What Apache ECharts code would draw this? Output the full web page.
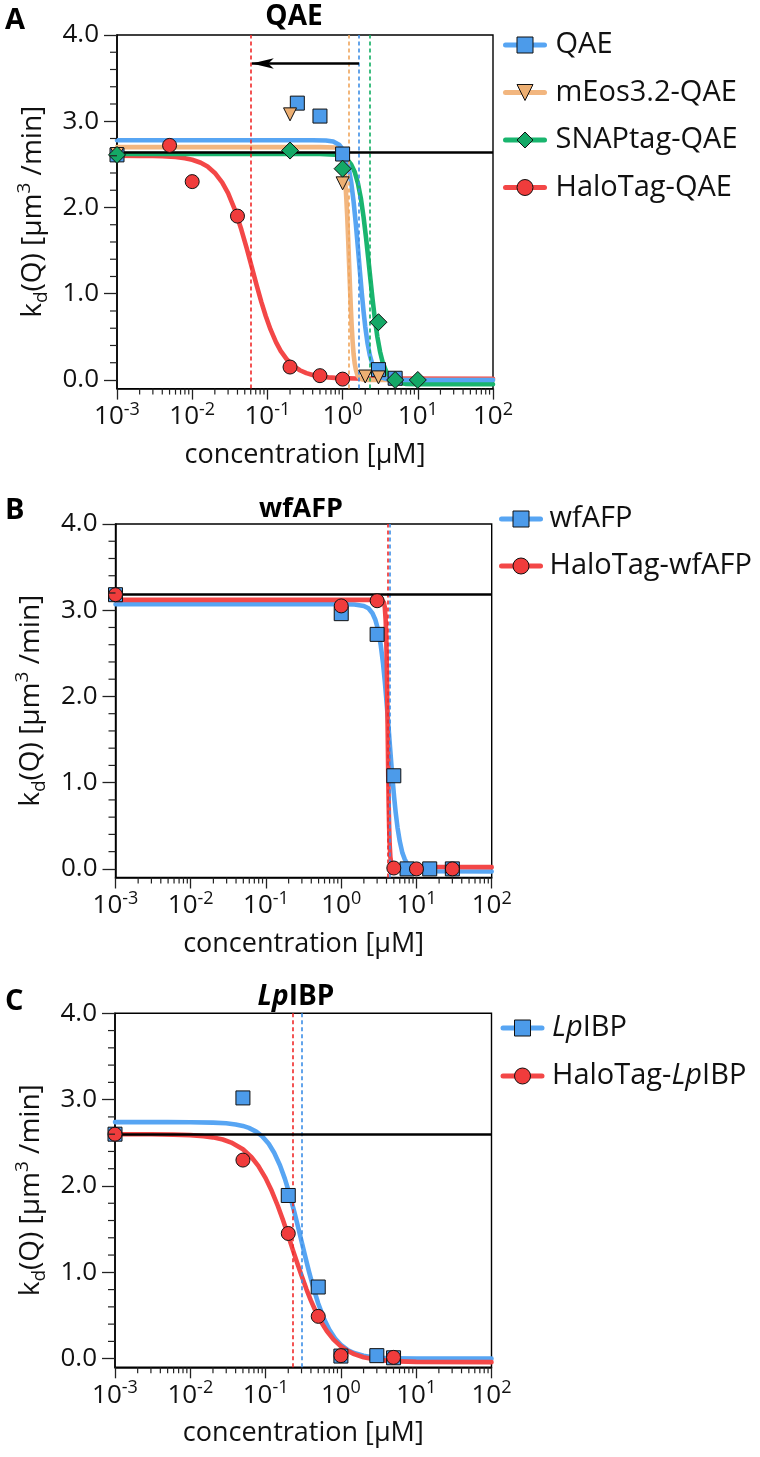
<!DOCTYPE html>
<html><head><meta charset="utf-8">
<script src="https://cdn.jsdelivr.net/npm/echarts@6/dist/echarts.min.js"></script>
<style>html,body{margin:0;padding:0;background:#fff}#c{width:760px;height:1457px}</style>
</head><body><div id="c"></div>
<script>
// ---------- axis / tick definitions ----------
const yMin = -0.1, yMax = 4.0;
const yTickValues = [0, 1, 2, 3, 4];
const yMinorTickValues = [0.2,0.4,0.6,0.8,1.2,1.4,1.6,1.8,2.2,2.4,2.6,2.8,3.2,3.4,3.6,3.8];
const xMin = 0.001, xMax = 100;
const xTickExponents = [-3, -2, -1, 0, 1, 2];
const xMinorMultipliers = [2, 3, 4, 5, 6, 7, 8, 9];
const xAxisTitle = 'concentration [µM]';

// ---------- Panel A : QAE (measured points) ----------
const qaeConc = [0.001, 0.25, 0.5, 1, 3, 5];
const qaeKd   = [2.61, 3.21, 3.06, 2.62, 0.12, 0.02];
const meosConc = [0.001, 0.2, 1, 2, 3];
const meosKd   = [2.62, 3.08, 2.28, 0.04, 0.03];
const snapConc = [0.001, 0.2, 1, 3, 5, 10];
const snapKd   = [2.61, 2.66, 2.45, 0.67, 0.0, 0.0];
const haloQaeConc = [0.001, 0.005, 0.01, 0.04, 0.2, 0.5, 1];
const haloQaeKd   = [2.61, 2.72, 2.30, 1.90, 0.15, 0.05, 0.01];

// ---------- Panel A : fitted curves ----------
const qaeFitConc = [0.001, 0.4, 0.6, 0.75, 0.9, 1.0, 1.1, 1.2, 1.3, 1.4, 1.5, 1.6, 1.7, 1.8, 1.9, 2.0, 2.15, 2.3, 2.5, 2.7, 3.0, 3.4, 4, 5, 7, 100];
const qaeFitKd   = [2.78, 2.78, 2.776, 2.764, 2.727, 2.677, 2.594, 2.469, 2.294, 2.069, 1.807, 1.529, 1.256, 1.007, 0.794, 0.619, 0.422, 0.288, 0.175, 0.109, 0.056, 0.025, 0.009, 0.002, 0.0, 0.0];
const meosFitConc = [0.001, 0.5, 0.8, 0.9, 0.95, 1.0, 1.05, 1.09, 1.12, 1.15, 1.18, 1.2, 1.22, 1.24, 1.26, 1.29, 1.32, 1.36, 1.4, 1.45, 1.5, 1.57, 1.65, 1.8, 2, 100];
const meosFitKd   = [2.70, 2.70, 2.695, 2.672, 2.64, 2.57, 2.44, 2.279, 2.11, 1.912, 1.68, 1.517, 1.35, 1.186, 1.03, 0.816, 0.63, 0.443, 0.30, 0.189, 0.12, 0.06, 0.03, 0.008, 0.0, 0.0];
const snapFitConc = [0.001, 0.5, 0.8, 1.0, 1.15, 1.3, 1.45, 1.6, 1.75, 1.9, 2.05, 2.2, 2.35, 2.5, 2.7, 2.9, 3.15, 3.4, 3.8, 4.2, 4.8, 5.5, 7, 10, 100];
const snapFitKd   = [2.62, 2.62, 2.611, 2.59, 2.558, 2.50, 2.411, 2.28, 2.105, 1.89, 1.65, 1.40, 1.158, 0.94, 0.692, 0.50, 0.328, 0.21, 0.098, 0.04, -0.007, -0.03, -0.045, -0.05, -0.05];
const haloQaeFitConc = [0.001, 0.002, 0.003, 0.004, 0.006, 0.008, 0.01, 0.013, 0.016, 0.02, 0.025, 0.03, 0.037, 0.045, 0.053, 0.062, 0.072, 0.083, 0.095, 0.11, 0.13, 0.15, 0.18, 0.22, 0.27, 0.33, 0.4, 0.5, 0.65, 0.8, 1, 1.5, 2, 100];
const haloQaeFitKd   = [2.60, 2.599, 2.597, 2.594, 2.585, 2.571, 2.553, 2.519, 2.475, 2.401, 2.291, 2.166, 1.972, 1.744, 1.528, 1.308, 1.097, 0.906, 0.742, 0.586, 0.439, 0.338, 0.241, 0.165, 0.113, 0.079, 0.057, 0.041, 0.030, 0.024, 0.021, 0.017, 0.016, 0.015];

const qaeControl = 2.64;
const qaeIC50 = {halo: 0.062, meos: 1.22, qae: 1.65, snap: 2.27};
const qaeArrowY = 3.67;

// ---------- Panel B : wfAFP ----------
const wfConc = [0.001, 1, 3, 5, 7.5, 15, 30];
const wfKd   = [3.18, 2.96, 2.72, 1.08, 0.0, 0.0, 0.0];
const haloWfConc = [0.001, 1, 3, 5, 10, 30];
const haloWfKd   = [3.18, 3.05, 3.11, 0.01, 0.0, 0.0];
const wfFitConc = [0.001, 1, 1.5, 2, 2.3, 2.6, 2.85, 3.1, 3.35, 3.6, 3.8, 4.0, 4.2, 4.4, 4.6, 4.8, 5.05, 5.3, 5.6, 6.0, 6.5, 7, 7.7, 8.5, 10, 13, 100];
const wfFitKd   = [3.07, 3.07, 3.067, 3.05, 3.022, 2.965, 2.886, 2.77, 2.596, 2.38, 2.17, 1.94, 1.708, 1.47, 1.253, 1.05, 0.831, 0.65, 0.479, 0.32, 0.185, 0.11, 0.045, 0.01, -0.016, -0.027, -0.03];
const haloWfFitConc = [0.001, 3, 3.5, 3.7, 3.8, 3.9, 3.97, 4.03, 4.08, 4.12, 4.15, 4.18, 4.22, 4.27, 4.33, 4.4, 4.5, 4.65, 5, 100];
const haloWfFitKd   = [3.12, 3.12, 3.117, 3.089, 3.031, 2.881, 2.67, 2.387, 2.077, 1.793, 1.57, 1.348, 1.07, 0.771, 0.499, 0.292, 0.137, 0.052, 0.025, 0.02];
const wfControl = 3.18;
const wfIC50 = {halo: 4.15, wf: 4.36};

// ---------- Panel C : LpIBP ----------
const lpConc = [0.001, 0.05, 0.2, 0.5, 1, 3, 5];
const lpKd   = [2.60, 3.02, 1.89, 0.83, 0.03, 0.035, 0.01];
const haloLpConc = [0.001, 0.05, 0.2, 0.5, 1, 5];
const haloLpKd   = [2.60, 2.30, 1.45, 0.49, 0.035, 0.015];
const lpFitConc = [0.001, 0.005, 0.01, 0.02, 0.03, 0.04, 0.05, 0.06, 0.075, 0.09, 0.11, 0.13, 0.155, 0.18, 0.21, 0.24, 0.27, 0.3, 0.34, 0.38, 0.43, 0.5, 0.6, 0.7, 0.85, 1, 1.25, 1.5, 2, 2.5, 3.5, 5, 10, 100];
const lpFitKd   = [2.74, 2.74, 2.739, 2.734, 2.726, 2.713, 2.696, 2.673, 2.63, 2.576, 2.489, 2.385, 2.241, 2.085, 1.893, 1.704, 1.525, 1.36, 1.164, 0.997, 0.824, 0.639, 0.457, 0.337, 0.226, 0.16, 0.097, 0.065, 0.034, 0.02, 0.009, 0.005, 0.001, 0.0];
const haloLpFitConc = [0.001, 0.003, 0.006, 0.01, 0.015, 0.02, 0.027, 0.035, 0.05, 0.065, 0.08, 0.1, 0.12, 0.145, 0.17, 0.2, 0.23, 0.265, 0.3, 0.35, 0.4, 0.47, 0.55, 0.65, 0.8, 1.0, 1.2, 1.5, 2, 3, 4, 6, 10, 100];
const haloLpFitKd   = [2.60, 2.599, 2.595, 2.589, 2.577, 2.563, 2.538, 2.503, 2.425, 2.333, 2.233, 2.091, 1.947, 1.771, 1.605, 1.423, 1.26, 1.10, 0.962, 0.80, 0.673, 0.535, 0.421, 0.32, 0.221, 0.143, 0.095, 0.053, 0.017, -0.012, -0.023, -0.031, -0.037, -0.04];
const lpControl = 2.60;
const lpIC50 = {halo: 0.227, lp: 0.298};

// ---------- styles ----------
const FONT = '"Open Sans", "DejaVu Sans", sans-serif';
const C = {
  blueFill: '#4C9BEA', blueLine: '#57A5F3', blueDash: '#3C8EE6',
  orFill: '#EDAF72', orLine: '#F2B67F', orDash: '#F0A55A',
  grFill: '#14A866', grLine: '#19B56E', grDash: '#0FAE62',
  rdFill: '#F03C3C', rdLine: '#F34747', rdDash: '#F02A2A'
};
const panelRects = [
  {left: 117, top: 35, width: 376, height: 353.6},
  {left: 115.5, top: 524, width: 376.2, height: 353.5},
  {left: 115, top: 1013.3, width: 376.5, height: 354}
];
// minor tick values for the log axis: 2..9 x each decade
const xMinorValues = [];
xTickExponents.slice(0, -1).forEach(d => xMinorMultipliers.forEach(m => xMinorValues.push(+(m * Math.pow(10, d)).toPrecision(3))));

const pairs = (xs, ys) => xs.map((x, i) => [x, ys[i]]);
const TICK_COLOR = '#222';
const tickLine = {color: TICK_COLOR, width: 1.3};
const axisLineStyle = {color: '#000', width: 1.5};
const X_MINOR_LEN = 6, Y_MINOR_LEN = 7;

function xMainAxis(g) {
  return {
    type: 'log', logBase: 10, gridIndex: g, min: xMin, max: xMax, position: 'bottom',
    name: xAxisTitle, nameLocation: 'middle', nameGap: 53,
    nameTextStyle: {fontSize: 27, fontFamily: FONT, color: '#111'},
    axisLine: {show: true, onZero: false, lineStyle: axisLineStyle},
    axisTick: {show: true, length: 11, lineStyle: tickLine},
    axisLabel: {
      margin: 12,
      formatter: v => {
        const e = Math.round(Math.log10(v));
        const idx = xTickExponents.indexOf(e);
        return '{b|10}{s|' + (idx >= 0 ? xTickExponents[idx] : e) + '}';
      },
      rich: {
        b: {fontSize: 26, fontFamily: FONT, color: '#111', lineHeight: 32, verticalAlign: 'middle'},
        s: {fontSize: 18, fontFamily: FONT, color: '#111', lineHeight: 18, verticalAlign: 'top'}
      }
    },
    splitLine: {show: false}
  };
}
function yMainAxis(g) {
  return {
    type: 'value', gridIndex: g, min: yMin, max: yMax, position: 'left',
    name: '{b|k}{sub|d}{b|(Q) [µm}{sup|3}{b| /min]}',
    nameLocation: 'middle', nameGap: 66, nameRotate: 90,
    nameTextStyle: {
      fontSize: 28, fontFamily: FONT, color: '#111',
      rich: {
        b: {fontSize: 28, fontFamily: FONT, color: '#111', lineHeight: 36, verticalAlign: 'middle'},
        sub: {fontSize: 19, fontFamily: FONT, color: '#111', lineHeight: 20, verticalAlign: 'bottom'},
        sup: {fontSize: 19, fontFamily: FONT, color: '#111', lineHeight: 20, verticalAlign: 'top'}
      }
    },
    axisLine: {show: true, onZero: false, lineStyle: axisLineStyle},
    axisTick: {show: true, length: 13, customValues: yTickValues, lineStyle: tickLine},
    axisLabel: {customValues: yTickValues, formatter: v => Number(v).toFixed(1), margin: 18,
      fontSize: 26, fontFamily: FONT, color: '#111'},
    splitLine: {show: false}
  };
}

function fitSeries(name, xs, ys, lineColor, fill, symbol, rot, g, z) {
  return {
    type: 'line', name, xAxisIndex: g, yAxisIndex: g, data: pairs(xs, ys),
    smooth: false, showSymbol: false, symbol, symbolRotate: rot || 0,
    lineStyle: {color: lineColor, width: 4.6, join: 'round', cap: 'round'},
    itemStyle: {color: fill, borderColor: '#111', borderWidth: 1},
    emphasis: {disabled: true}, silent: true, z: z || 2
  };
}
function pointSeries(name, xs, ys, fill, symbol, size, rot, g, z) {
  return {
    type: 'scatter', name, xAxisIndex: g, yAxisIndex: g, data: pairs(xs, ys),
    symbol, symbolSize: size, symbolRotate: rot || 0,
    itemStyle: {color: fill, borderColor: '#111', borderWidth: 1, opacity: 1},
    emphasis: {disabled: true}, silent: true, z: z || 5
  };
}
function refSeries(g, z, lines) {
  return {
    type: 'line', name: 'ref' + g + '_' + z, xAxisIndex: g, yAxisIndex: g, data: [], z,
    silent: true,
    markLine: {silent: true, symbol: 'none', animation: false, label: {show: false},
      emphasis: {disabled: true}, data: lines}
  };
}
const vline = (x, color) => ({xAxis: x, lineStyle: {color, width: 1.6, type: [4, 3]}});
const hline = y => ({yAxis: y, lineStyle: {color: '#000', width: 2.6, type: 'solid'}});

const series = [
  // Panel A
  refSeries(0, 1, [vline(qaeIC50.halo, C.rdDash), vline(qaeIC50.meos, C.orDash), vline(qaeIC50.qae, C.blueDash), vline(qaeIC50.snap, C.grDash)]),
  fitSeries('HaloTag-QAE', haloQaeFitConc, haloQaeFitKd, C.rdLine, C.rdFill, 'circle', 0, 0, 2),
  fitSeries('mEos3.2-QAE', meosFitConc, meosFitKd, C.orLine, C.orFill, 'triangle', 180, 0, 2),
  fitSeries('SNAPtag-QAE', snapFitConc, snapFitKd, C.grLine, C.grFill, 'diamond', 0, 0, 2),
  fitSeries('QAE', qaeFitConc, qaeFitKd, C.blueLine, C.blueFill, 'rect', 0, 0, 2),
  refSeries(0, 3, [hline(qaeControl)]),
  {
    type: 'line', name: 'arrowA', xAxisIndex: 0, yAxisIndex: 0, data: [], z: 3, silent: true,
    markLine: {silent: true, animation: false, symbol: ['none', 'arrow'], symbolSize: [8, 22], label: {show: false},
      lineStyle: {color: '#000', width: 2.6, type: 'solid'},
      data: [[{coord: [qaeIC50.qae, qaeArrowY]}, {coord: [qaeIC50.halo, qaeArrowY]}]]}
  },
  pointSeries('HaloTag-QAE pts', haloQaeConc, haloQaeKd, C.rdFill, 'circle', 14, 0, 0, 5),
  pointSeries('QAE pts', qaeConc, qaeKd, C.blueFill, 'rect', 14, 0, 0, 5),
  pointSeries('mEos3.2-QAE pts', meosConc, meosKd, C.orFill, 'triangle', 13, 180, 0, 5),
  pointSeries('SNAPtag-QAE pts', snapConc, snapKd, C.grFill, 'diamond', 17, 0, 0, 5),
  // Panel B
  refSeries(1, 1, [vline(wfIC50.halo, C.rdDash), vline(wfIC50.wf, C.blueDash)]),
  fitSeries('wfAFP', wfFitConc, wfFitKd, C.blueLine, C.blueFill, 'rect', 0, 1, 2),
  fitSeries('HaloTag-wfAFP', haloWfFitConc, haloWfFitKd, C.rdLine, C.rdFill, 'circle', 0, 1, 2),
  refSeries(1, 3, [hline(wfControl)]),
  pointSeries('wfAFP pts', wfConc, wfKd, C.blueFill, 'rect', 14, 0, 1, 5),
  pointSeries('HaloTag-wfAFP pts', haloWfConc, haloWfKd, C.rdFill, 'circle', 14, 0, 1, 5),
  // Panel C
  refSeries(2, 1, [vline(lpIC50.halo, C.rdDash), vline(lpIC50.lp, C.blueDash)]),
  fitSeries('LpIBP', lpFitConc, lpFitKd, C.blueLine, C.blueFill, 'rect', 0, 2, 2),
  fitSeries('HaloTag-LpIBP', haloLpFitConc, haloLpFitKd, C.rdLine, C.rdFill, 'circle', 0, 2, 2),
  refSeries(2, 3, [hline(lpControl)]),
  pointSeries('LpIBP pts', lpConc, lpKd, C.blueFill, 'rect', 14, 0, 2, 5),
  pointSeries('HaloTag-LpIBP pts', haloLpConc, haloLpKd, C.rdFill, 'circle', 14, 0, 2, 5)
];

const legendText = {fontSize: 29, fontFamily: FONT, color: '#111', lineHeight: 34};
function legend(names, left, top, gap, padL, formatter) {
  const o = {
    data: names, orient: 'vertical', left, top, itemWidth: 39, itemHeight: 20, itemGap: gap, padding: 0,
    selectedMode: false,
    lineStyle: {width: 5},
    itemStyle: {borderColor: '#111', borderWidth: 1},
    textStyle: Object.assign({}, legendText, {padding: [0, 0, 0, padL],
      rich: {
        i: {fontSize: 29, fontFamily: FONT, fontStyle: 'italic', color: '#111', lineHeight: 34},
        n: {fontSize: 29, fontFamily: FONT, color: '#111', lineHeight: 34}
      }})
  };
  if (formatter) o.formatter = formatter;
  return o;
}

function gText(text, x, y, size, align, rich) {
  const st = {text, x, y, fill: '#000', font: 'bold ' + size + 'px ' + FONT,
    fontSize: size, fontWeight: 'bold', fontFamily: FONT,
    align, textAlign: align, verticalAlign: 'middle', textVerticalAlign: 'middle'};
  if (rich) st.rich = rich;
  return {type: 'text', x: 0, y: 0, z: 10, silent: true, style: st};
}
const titleRich = {
  i: {fontSize: 28, fontFamily: FONT, fontWeight: 'bold', fontStyle: 'italic', fill: '#000', color: '#000'},
  n: {fontSize: 28, fontFamily: FONT, fontWeight: 'bold', fill: '#000', color: '#000'}
};
const titleGraphics = [
  gText('A', 5, 21, 29, 'left'),
  gText('QAE', 294, 17, 28, 'center'),
  gText('B', 5, 511, 29, 'left'),
  gText('wfAFP', 301, 509, 27, 'center'),
  gText('C', 5, 1002, 29, 'left'),
  gText('{i|Lp}{n|IBP}', 296, 997, 28, 'center', titleRich)
];

const option = {
  animation: false,
  backgroundColor: '#fff',
  grid: panelRects.map(r => Object.assign({show: true, borderColor: '#000', borderWidth: 1.4, backgroundColor: 'transparent', containLabel: false}, r)),
  xAxis: [xMainAxis(0), xMainAxis(1), xMainAxis(2)],
  yAxis: [yMainAxis(0), yMainAxis(1), yMainAxis(2)],
  legend: [
    legend(['QAE', 'mEos3.2-QAE', 'SNAPtag-QAE', 'HaloTag-QAE'], 503, 28, 13.5, 6),
    legend(['wfAFP', 'HaloTag-wfAFP'], 499, 502, 13, 4),
    legend(['LpIBP', 'HaloTag-LpIBP'], 500.5, 1011, 14, 5,
      name => name.replace('LpIBP', '{i|Lp}{n|IBP}'))
  ],
  graphic: titleGraphics,
  series
};

const chart = echarts.init(document.getElementById('c'), null, {renderer: 'canvas', width: 760, height: 1457});
chart.setOption(option);

// minor ticks: positions come from the axes' own scales via convertToPixel
const tickGraphics = [];
[0, 1, 2].forEach(g => {
  const yBottom = chart.convertToPixel({yAxisIndex: g}, yMin);
  const xLeft = chart.convertToPixel({xAxisIndex: g}, xMin);
  xMinorValues.forEach(v => {
    const px = chart.convertToPixel({xAxisIndex: g}, v);
    if (isFinite(px) && isFinite(yBottom)) {
      tickGraphics.push({type: 'line', silent: true, z: 10,
        shape: {x1: px, y1: yBottom, x2: px, y2: yBottom + X_MINOR_LEN},
        style: {stroke: TICK_COLOR, lineWidth: 1.2}});
    }
  });
  yMinorTickValues.forEach(v => {
    const py = chart.convertToPixel({yAxisIndex: g}, v);
    if (isFinite(py) && isFinite(xLeft)) {
      tickGraphics.push({type: 'line', silent: true, z: 10,
        shape: {x1: xLeft - Y_MINOR_LEN, y1: py, x2: xLeft, y2: py},
        style: {stroke: TICK_COLOR, lineWidth: 1.2}});
    }
  });
});
chart.setOption({graphic: titleGraphics.concat(tickGraphics)});
</script></body></html>
